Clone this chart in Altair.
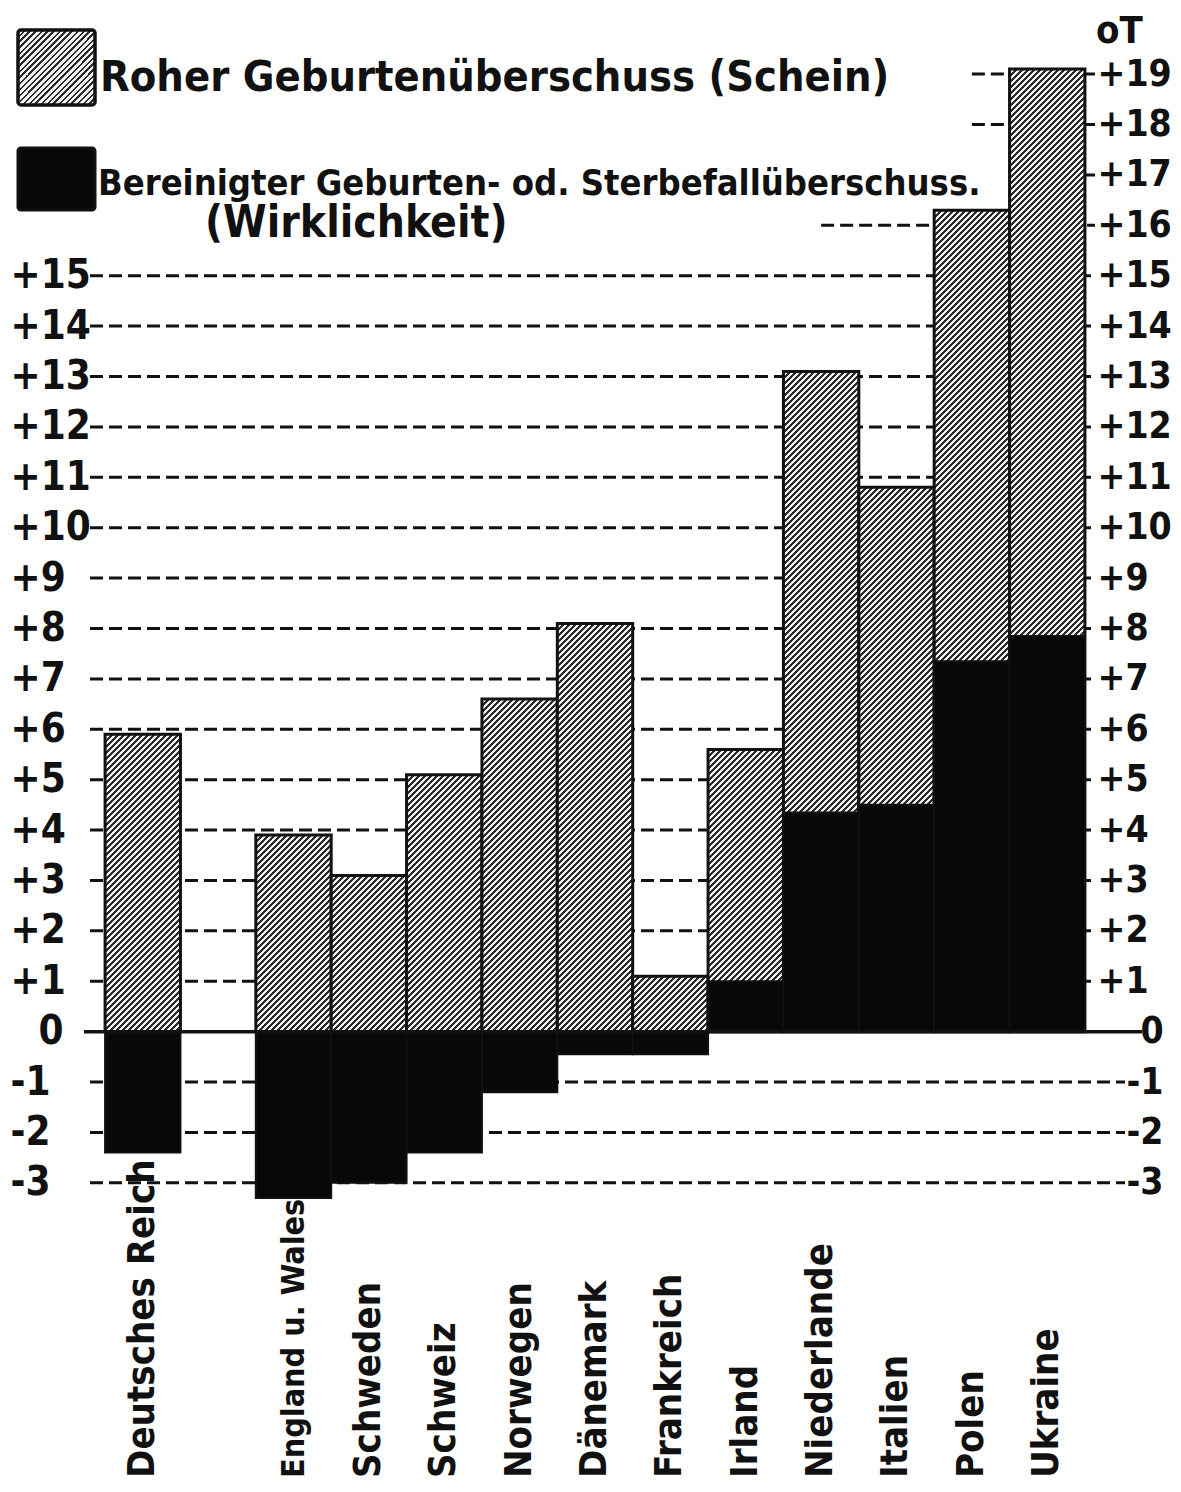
import altair as alt
import pandas as pd

# ---------------- data ----------------
countries = ["Deutsches Reich", "England u. Wales", "Schweden", "Schweiz", "Norwegen",
             "Dänemark", "Frankreich", "Irland", "Niederlande", "Italien", "Polen", "Ukraine"]
raw_surplus = [5.9, 3.9, 3.1, 5.1, 6.6, 8.1, 1.1, 5.6, 13.1, 10.8, 16.3, 19.1]
adjusted = [-2.4, -3.3, -3.0, -2.4, -1.2, -0.45, -0.45, 1.0, 4.35, 4.5, 7.35, 7.85]
slot_order = [countries[0], " ", *countries[1:]]          # empty slot after Deutsches Reich
squeezed_names = ["England u. Wales"]                      # printed narrower in the original
left_ticks = list(range(-3, 16))
right_ticks = list(range(-3, 20))
mid_levels = list(range(1, 16))
neg_levels = [-3, -2, -1]
upper_levels = [16, 17, 18, 19]
upper_start = ["Niederlande", "Ukraine", "Polen", "Polen"]
legend_raw = "Roher Geburtenüberschuss (Schein)"
legend_adj_1 = "Bereinigter Geburten- od. Sterbefallüberschuss."
legend_adj_2 = "(Wirklichkeit)"
unit_label = "oT"

# ---------------- layout ----------------
W, H = 1010, 1144
YMIN, YMAX = -3.4, 19.3
PAD_OUTER = 0.2
step = W / (len(slot_order) + 2 * PAD_OUTER)
ppu = H / (YMAX - YMIN)
FONT = "DejaVu Sans Condensed, Liberation Sans Narrow, sans-serif"
INK = "#111111"

df = pd.DataFrame({"country": countries, "raw": raw_surplus, "adj": adjusted})

y_scale = alt.Scale(domain=[YMIN, YMAX], nice=False, zero=False)
x_scale = alt.Scale(domain=slot_order, paddingInner=0, paddingOuter=PAD_OUTER)


def hatch(w, h, period=6.0, dark=0.48):
    """Diagonal '////' hatch as a striped linear gradient in bounding-box units."""
    L = w + h
    n = int(L / period) + 1
    stops = []
    for k in range(n):
        a = min(k * period / L, 1.0)
        b = min((k + dark) * period / L, 1.0)
        c = min((k + 1) * period / L, 1.0)
        stops += [{"offset": round(a, 6), "color": "#2b2b2b"},
                  {"offset": round(b, 6), "color": "#2b2b2b"},
                  {"offset": round(b, 6), "color": "#f2f2f2"},
                  {"offset": round(c, 6), "color": "#f2f2f2"}]
    s = (w + h) / (w * w + h * h)
    return {"gradient": "linear", "x1": 0, "y1": 0,
            "x2": round(w * s, 6), "y2": round(h * s, 6), "stops": stops}


hatch_fill = {
    "condition": [
        {"test": f"datum.country === '{c}'", "value": hatch(step, v * ppu)}
        for c, v in zip(countries, raw_surplus)
    ],
    "value": "#9a9a9a",
}

sign_expr = "datum.value > 0 ? '+' + datum.value : (datum.value < 0 ? '-' + abs(datum.value) : '0')"

left_axis = alt.Axis(
    orient="left", values=left_ticks, labelExpr=sign_expr, title=None,
    domain=False, ticks=False, grid=False, labelOverlap=False, labelFlush=False,
    labelAlign="left", labelBaseline="middle",
    labelPadding={"condition": {"test": "datum.value === 0", "value": 52}, "value": 80},
    labelFont=FONT, labelFontSize=40, labelFontWeight="bold", labelColor=INK,
)
right_axis = alt.Axis(
    orient="right", values=right_ticks, labelExpr=sign_expr, title=None,
    domain=False, ticks=False, grid=False, labelOverlap=False, labelFlush=False,
    labelAlign="left", labelBaseline="middle",
    labelPadding={"condition": [{"test": "datum.value === 0", "value": 40},
                                {"test": "datum.value < 0", "value": 26}], "value": -3},
    labelFont=FONT, labelFontSize=37, labelFontWeight="bold", labelColor=INK,
)

base = alt.Chart(df)

# grid lines
grid_mid = alt.Chart(pd.DataFrame({"lvl": mid_levels})).mark_rule(
    color=INK, strokeWidth=3, strokeDash=[13, 6]
).encode(y=alt.Y("lvl:Q", scale=y_scale, axis=None), x=alt.value(0), x2=alt.value(W - 5))

grid_neg = alt.Chart(pd.DataFrame({"lvl": neg_levels})).mark_rule(
    color=INK, strokeWidth=3, strokeDash=[13, 6]
).encode(y=alt.Y("lvl:Q", scale=y_scale, axis=None), x=alt.value(0), x2=alt.value(W + 25))

grid_zero = alt.Chart(pd.DataFrame({"lvl": [0]})).mark_rule(
    color=INK, strokeWidth=3.5
).encode(y=alt.Y("lvl:Q", scale=y_scale, axis=None), x=alt.value(-6), x2=alt.value(W + 42))

grid_up = alt.Chart(pd.DataFrame({"lvl": upper_levels, "start": upper_start})).mark_rule(
    color=INK, strokeWidth=3, strokeDash=[13, 6]
).encode(
    y=alt.Y("lvl:Q", scale=y_scale, axis=None),
    x=alt.X("start:N", scale=x_scale, axis=None),
    x2=alt.value(W - 5),
)

# bars
raw_bars = base.mark_bar(stroke=INK, strokeWidth=3).encode(
    x=alt.X("country:N", scale=x_scale, axis=None),
    y=alt.Y("raw:Q", scale=y_scale, axis=left_axis),
    y2=alt.datum(0),
    fill=hatch_fill,
)

adj_bars = base.mark_bar(stroke=INK, strokeWidth=2, fill="#080808").encode(
    x=alt.X("country:N", scale=x_scale, axis=None),
    y=alt.Y("adj:Q", scale=y_scale, axis=right_axis),
    y2=alt.datum(0),
)

# category labels (rotated, bottom aligned)
squeezed_test = " || ".join(f"datum.country === '{c}'" for c in squeezed_names)


def names_layer(size, keep):
    return base.transform_filter(keep).mark_text(
        angle=270, align="left", baseline="middle", font=FONT, fontSize=size,
        fontWeight="bold", color=INK,
    ).encode(
        x=alt.X("country:N", scale=x_scale, axis=None),
        y=alt.value(H + 275),
        text="country:N",
    )


names = names_layer(38, f"!({squeezed_test})")
names_small = names_layer(32, squeezed_test)

# legend and unit label
one = pd.DataFrame({"k": [0]})
leg_hatch = alt.Chart(one).mark_rect(
    stroke=INK, strokeWidth=3.5, cornerRadius=3, fill=hatch(77, 75)
).encode(x=alt.value(-72), x2=alt.value(5), y=alt.value(-29), y2=alt.value(46))
leg_black = alt.Chart(one).mark_rect(
    stroke=INK, strokeWidth=3, cornerRadius=3, fill="#080808"
).encode(x=alt.value(-72), x2=alt.value(5), y=alt.value(89), y2=alt.value(151))


def label(txt, x, y, size):
    return alt.Chart(one).mark_text(
        align="left", baseline="alphabetic", font=FONT, fontSize=size,
        fontWeight="bold", color=INK,
    ).encode(x=alt.value(x), y=alt.value(y), text=alt.value(txt))


leg_t1 = label(legend_raw, 10, 32, 43)
leg_t2 = label(legend_adj_1, 8, 136, 36)
leg_t3 = label(legend_adj_2, 115, 178, 44)
unit_t = label(unit_label, 1006, -16, 38)

chart = alt.layer(
    grid_mid, grid_neg, grid_up, raw_bars, adj_bars, grid_zero, names, names_small,
    leg_hatch, leg_black, leg_t1, leg_t2, leg_t3, unit_t,
).resolve_scale(y="independent").properties(
    width=W, height=H,
    autosize=alt.AutoSizeParams(type="none"),
    padding={"left": 82, "top": 51, "right": 73, "bottom": 275},
    background="white",
).configure_view(stroke=None)

chart.save("out.html", embed_options={"renderer": "svg", "actions": False})
